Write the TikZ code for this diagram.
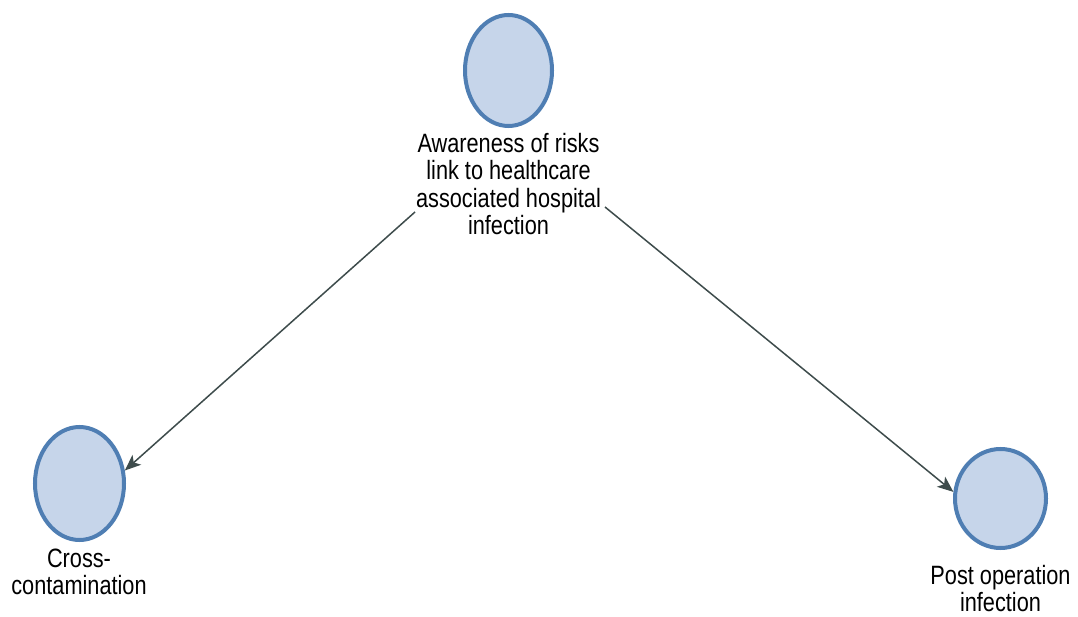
\documentclass[tikz,border=0pt]{standalone}
\usepackage{fontspec}
\setmainfont{Liberation Sans}[FakeStretch=0.82]
\usetikzlibrary{shapes.geometric,arrows.meta}
\definecolor{nodefill}{HTML}{C6D5EA}
\definecolor{nodeedge}{HTML}{4F7EB3}
\definecolor{linkcol}{HTML}{3E4C4C}
\begin{document}
\begin{tikzpicture}[x=1pt,y=-1pt,
  bubble/.style={ellipse, draw=nodeedge, fill=nodefill, line width=4pt, inner sep=0pt},
  caption/.style={anchor=north, align=center, inner sep=0pt,
    font=\fontsize{26.5}{27.5}\selectfont},
  link/.style={draw=linkcol, line width=1.5pt, -{Stealth[length=16pt,width=13pt,inset=4pt]}}]
  \useasboundingbox[fill=white] (0,0) rectangle (1078,617);

  % the three factors
  \node[bubble, minimum width=87pt, minimum height=111pt] (aware) at (508.5,70.5) {};
  \node[bubble, minimum width=89pt, minimum height=113pt] (cross) at (79.5,483.5) {};
  \node[bubble, minimum width=91pt, minimum height=99pt] (post) at (1000.5,498.5) {};

  % captions under the factors
  \node[caption] (awaretxt) at (508.5,132.7) {Awareness of risks\\link to healthcare\\associated hospital\\infection};
  \node[caption] (crosstxt) at (79,548.7) {Cross-\\contamination};
  \node[caption] (posttxt) at (1000.5,565) {Post operation\\infection};

  % arrows leave from beside the third caption line
  \coordinate (outL) at (415,212);
  \coordinate (outR) at (605,207);
  \draw[link] (outL) -- (cross.16);
  \draw[link] (outR) -- (post.172);
\end{tikzpicture}
\end{document}
